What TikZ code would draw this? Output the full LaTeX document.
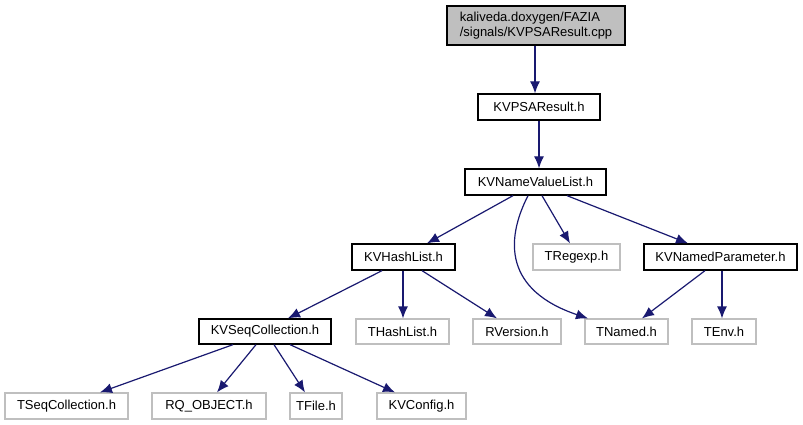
\documentclass[tikz,border=0pt]{standalone}
\usepackage{fontspec}
\setmainfont{Liberation Sans}
\usetikzlibrary{arrows.meta}
\definecolor{edgeblue}{HTML}{191970}
\definecolor{boxgray}{HTML}{BFBFBF}
\begin{document}
\begin{tikzpicture}[x=1pt,y=-1pt,
  base/.style={rectangle,inner sep=0pt,minimum height=26pt,font=\fontsize{13}{15}\selectfont},
  bx/.style={base,draw=black,line width=1.3pt,fill=white},
  gx/.style={base,draw=boxgray,line width=1.2pt,fill=white},
  edge/.style={draw=edgeblue,line width=1.2pt,-{Latex[length=12pt,width=10pt]}}]
\useasboundingbox[fill=white] (0,0) rectangle (803,425);
% nodes
\node[bx,fill=boxgray,minimum width=178pt,minimum height=39pt,align=left] (top) at (536,25.5) {kaliveda.doxygen/FAZIA\\/signals/KVPSAResult.cpp};
\node[bx,minimum width=122pt] (psa) at (539,107) {KVPSAResult.h};
\node[bx,minimum width=141pt] (nvl) at (535.5,182) {KVNameValueList.h};
\node[bx,minimum width=103pt] (hash) at (403.5,257) {KVHashList.h};
\node[gx,minimum width=87pt] (regexp) at (576.5,257) {TRegexp.h};
\node[bx,minimum width=153pt] (knp) at (720.5,257) {KVNamedParameter.h};
\node[bx,minimum width=132pt,minimum height=25pt] (seq) at (265,331.5) {KVSeqCollection.h};
\node[gx,minimum width=93pt,minimum height=25pt] (thash) at (402.5,331.5) {THashList.h};
\node[gx,minimum width=88pt,minimum height=25pt] (rver) at (517,331.5) {RVersion.h};
\node[gx,minimum width=83pt,minimum height=25pt] (tnamed) at (626.5,331.5) {TNamed.h};
\node[gx,minimum width=64pt,minimum height=25pt] (tenv) at (724,331.5) {TEnv.h};
\node[gx,minimum width=123pt] (tseq) at (66.5,406) {TSeqCollection.h};
\node[gx,minimum width=114pt] (rq) at (209,406) {RQ\_OBJECT.h};
\node[gx,minimum width=52pt] (tfile) at (316,406) {TFile.h};
\node[gx,minimum width=89pt] (kvconf) at (421.5,406) {KVConfig.h};
% edges
\draw[edge] ([xshift=-1pt]top.south) -- ([xshift=-4pt]psa.north);
\draw[edge] (psa.south) -- ([xshift=3.5pt]nvl.north);
\draw[edge] ([xshift=-22.5pt]nvl.south) -- ([xshift=23.5pt]hash.north);
\draw[edge] ([xshift=-7.5pt]nvl.south) .. controls +(-23,45) and +(-83,-28) .. ([xshift=-38.5pt]tnamed.north);
\draw[edge] ([xshift=6.5pt]nvl.south) -- ([xshift=-6.5pt]regexp.north);
\draw[edge] ([xshift=31.5pt]nvl.south) -- ([xshift=-32.5pt]knp.north);
\draw[edge] ([xshift=-21.5pt]hash.south) -- ([xshift=23pt]seq.north);
\draw[edge] ([xshift=-0.5pt]hash.south) -- ([xshift=0.5pt]thash.north);
\draw[edge] ([xshift=18.5pt]hash.south) -- ([xshift=-20pt]rver.north);
\draw[edge] ([xshift=-15.5pt]knp.south) -- ([xshift=15.5pt]tnamed.north);
\draw[edge] ([xshift=1.5pt]knp.south) -- ([xshift=-2pt]tenv.north);
\draw[edge] ([xshift=-32pt]seq.south) -- ([xshift=33.5pt]tseq.north);
\draw[edge] ([xshift=-9pt]seq.south) -- ([xshift=8pt]rq.north);
\draw[edge] ([xshift=9pt]seq.south) -- ([xshift=-11pt]tfile.north);
\draw[edge] ([xshift=25pt]seq.south) -- ([xshift=-26.5pt]kvconf.north);
\end{tikzpicture}
\end{document}
